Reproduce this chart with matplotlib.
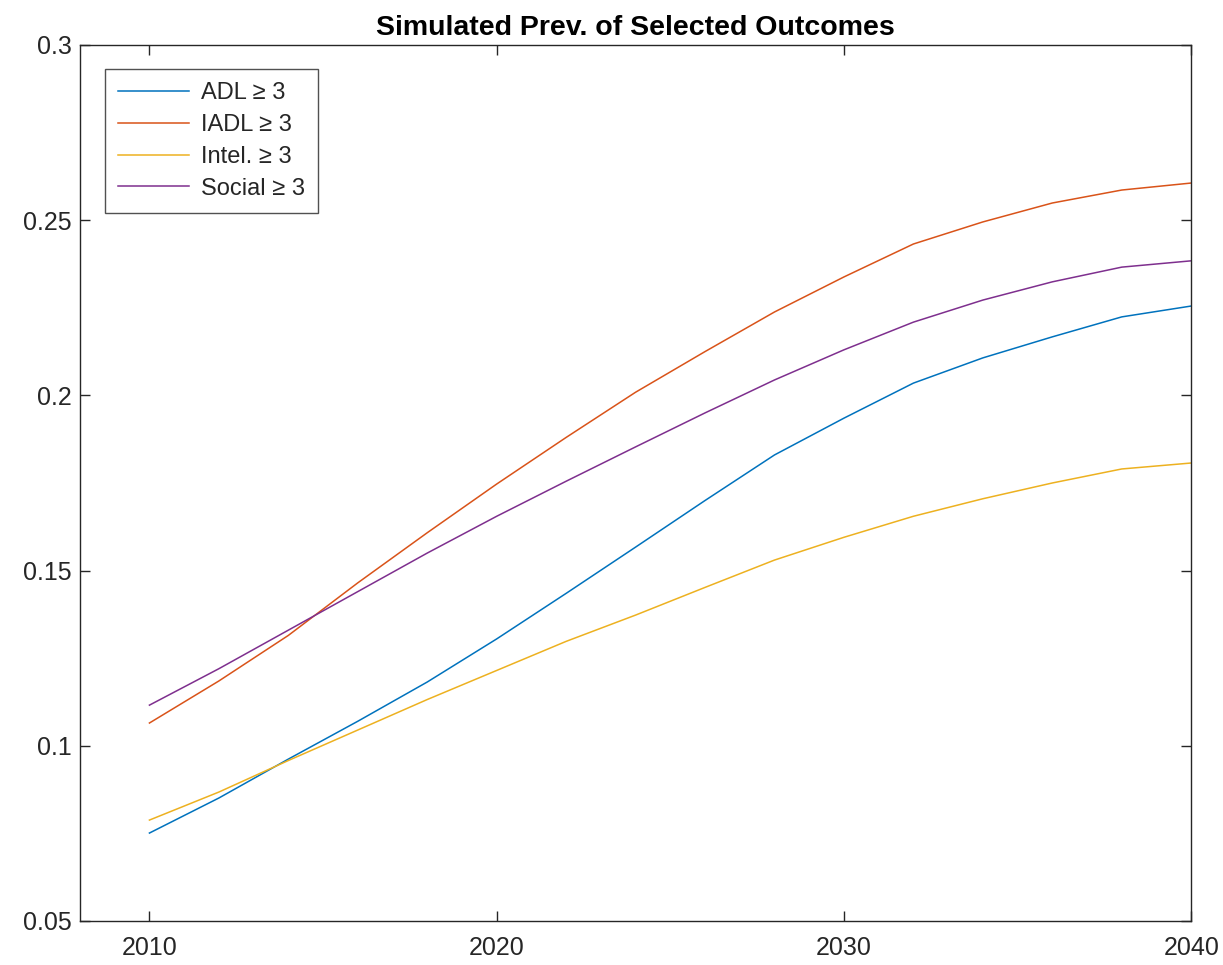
# Simulated prevalence of selected outcomes, 2010-2040

import matplotlib.pyplot as plt

plt.rcParams['font.family'] = ['Liberation Sans', 'DejaVu Sans']

years = [2010, 2012, 2014, 2016, 2018, 2020, 2022, 2024,
         2026, 2028, 2030, 2032, 2034, 2036, 2038, 2040]

adl = [0.0751, 0.0851, 0.0962, 0.1070, 0.1182, 0.1305, 0.1435, 0.1567,
       0.1700, 0.1830, 0.1935, 0.2035, 0.2107, 0.2167, 0.2224, 0.2255]
iadl = [0.1065, 0.1185, 0.1315, 0.1465, 0.1608, 0.1747, 0.1880, 0.2009,
        0.2125, 0.2238, 0.2338, 0.2432, 0.2495, 0.2549, 0.2586, 0.2606]
intel = [0.0788, 0.0868, 0.0958, 0.1045, 0.1132, 0.1215, 0.1298, 0.1373,
         0.1452, 0.1530, 0.1595, 0.1655, 0.1705, 0.1750, 0.1790, 0.1807]
social = [0.1116, 0.1220, 0.1330, 0.1440, 0.1550, 0.1655, 0.1755, 0.1853,
          0.1950, 0.2044, 0.2130, 0.2209, 0.2272, 0.2324, 0.2366, 0.2384]

labels = ['ADL \u2265 3', 'IADL \u2265 3', 'Intel. \u2265 3', 'Social \u2265 3']
colors = [(0, 0.447, 0.741), (0.85, 0.325, 0.098),
          (0.929, 0.694, 0.125), (0.494, 0.184, 0.556)]

xticks = [2010, 2020, 2030, 2040]
yticks = [0.05, 0.1, 0.15, 0.2, 0.25, 0.3]
ytick_labels = ['0.05', '0.1', '0.15', '0.2', '0.25', '0.3']

fig = plt.figure(figsize=(12.23, 9.65), dpi=100)
ax = fig.add_axes([0.0654, 0.0456, 0.9086, 0.9078])

for series, lab, c in zip([adl, iadl, intel, social], labels, colors):
    ax.plot(years, series, color=c, linewidth=1.1, label=lab)

ax.set_xlim(2008, 2040)
ax.set_ylim(0.05, 0.3)
ax.set_xticks(xticks)
ax.set_yticks(yticks)
ax.set_yticklabels(ytick_labels)

axcol = (0.15, 0.15, 0.15)
for s in ax.spines.values():
    s.set_color(axcol)
    s.set_linewidth(1.0)
ax.tick_params(direction='in', length=7, width=1.0, colors=axcol,
               labelsize=18, top=True, right=True)
ax.tick_params(axis='x', pad=11)
ax.tick_params(axis='y', pad=6)

ax.set_title('Simulated Prev. of Selected Outcomes', fontsize=20.5,
             fontweight='bold', pad=7)

leg = ax.legend(loc='upper left', bbox_to_anchor=(0.0225, 0.9726),
                fontsize=17, frameon=True, fancybox=False, borderaxespad=0,
                handlelength=3.0, handletextpad=0.5, labelspacing=0.42,
                borderpad=0.55)
leg.get_frame().set_edgecolor(axcol)
leg.get_frame().set_linewidth(1.0)
for t in leg.get_texts():
    t.set_color(axcol)

plt.savefig('out.png', dpi=100)
plt.close()
